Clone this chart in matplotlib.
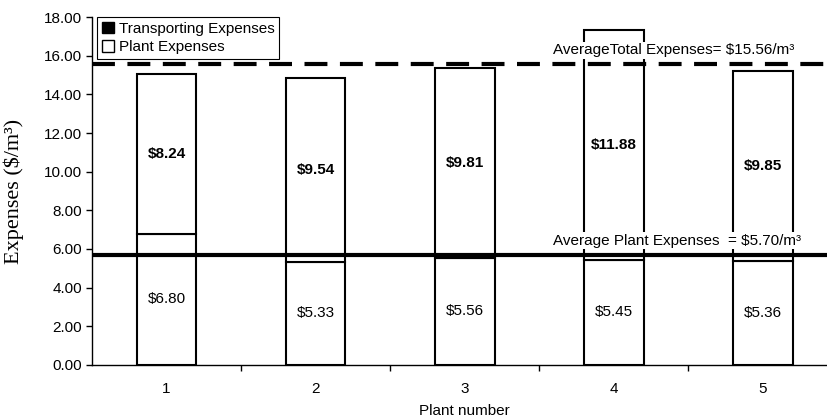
import numpy as np
import matplotlib
matplotlib.use('Agg')
import matplotlib.pyplot as plt
from matplotlib.patches import Patch
from matplotlib.ticker import FixedLocator, FormatStrFormatter

plt.rcParams['font.family'] = ['Liberation Sans', 'DejaVu Sans']

# Cost per cubic metre for each plant
plants = [1, 2, 3, 4, 5]
plant_expenses = np.array([6.80, 5.33, 5.56, 5.45, 5.36])
transport_expenses = np.array([8.24, 9.54, 9.81, 11.88, 9.85])

total_expenses = plant_expenses + transport_expenses
avg_total = total_expenses.mean()
avg_plant = plant_expenses.mean()

fig = plt.figure(figsize=(8.27, 4.19), dpi=100)
ax = fig.add_axes([0.1112, 0.1289, 0.9014, 0.8305])

x = np.array(plants)
width = 0.40
ax.bar(x, plant_expenses, width, color='white', edgecolor='black', linewidth=1.5, zorder=2)
ax.bar(x, transport_expenses, width, bottom=plant_expenses, color='white',
       edgecolor='black', linewidth=1.5, zorder=2)

# value labels inside each segment
for xi, p, t in zip(x, plant_expenses, transport_expenses):
    ax.text(xi, p / 2, f'${p:.2f}', ha='center', va='center', fontsize=11, zorder=5)
    ax.text(xi, p + t / 2, f'${t:.2f}', ha='center', va='center', fontsize=11,
            fontweight='bold', zorder=5)

# average lines
ax.axhline(avg_total, color='black', linewidth=3, dashes=(5.5, 3), zorder=3)
ax.axhline(avg_plant, color='black', linewidth=3, zorder=3)

box = dict(facecolor='white', edgecolor='none', pad=1)
ax.annotate(f'AverageTotal Expenses= ${avg_total:.2f}/m\u00b3', xy=(3.59, avg_total),
            xytext=(0, 5), textcoords='offset points', ha='left', va='bottom',
            fontsize=11, bbox=box, zorder=4)
ax.annotate(f'Average Plant Expenses  = ${avg_plant:.2f}/m\u00b3', xy=(3.59, avg_plant),
            xytext=(0, 5), textcoords='offset points', ha='left', va='bottom',
            fontsize=11, bbox=box, zorder=4)

ax.set_xlim(0.5, 5.5)
ax.set_ylim(0, 18)
ax.set_yticks(np.arange(0, 18.01, 2))
ax.yaxis.set_major_formatter(FormatStrFormatter('%.2f'))
ax.set_xticks(plants)
ax.xaxis.set_minor_locator(FixedLocator([1.5, 2.5, 3.5, 4.5]))
ax.tick_params(axis='x', which='major', length=0, pad=12, labelsize=11)
ax.tick_params(axis='x', which='minor', length=4, width=1, direction='out')
ax.tick_params(axis='y', length=4, width=1, direction='out', labelsize=11, pad=3)

for side in ['top', 'right']:
    ax.spines[side].set_visible(False)
ax.spines['left'].set_linewidth(1)
ax.spines['bottom'].set_linewidth(1)

ax.set_xlabel('Plant number', fontsize=11, labelpad=6)
ax.set_ylabel('Expenses ($/m\u00b3)', fontsize=16, family=['Liberation Serif', 'DejaVu Serif'])
ax.yaxis.set_label_coords(-0.091, 0.5)

handles = [Patch(facecolor='black', edgecolor='black', label='Transporting Expenses'),
           Patch(facecolor='white', edgecolor='black', label='Plant Expenses')]
leg = ax.legend(handles=handles, loc='upper left', bbox_to_anchor=(0.007, 1.0),
                fontsize=11, frameon=True, fancybox=False, framealpha=1,
                handlelength=0.8, handleheight=0.8, handletextpad=0.3,
                labelspacing=0.3, borderpad=0.3, borderaxespad=0)
leg.get_frame().set_edgecolor('black')
leg.get_frame().set_linewidth(0.8)
leg.set_zorder(6)

fig.savefig('out.png', dpi=100)
